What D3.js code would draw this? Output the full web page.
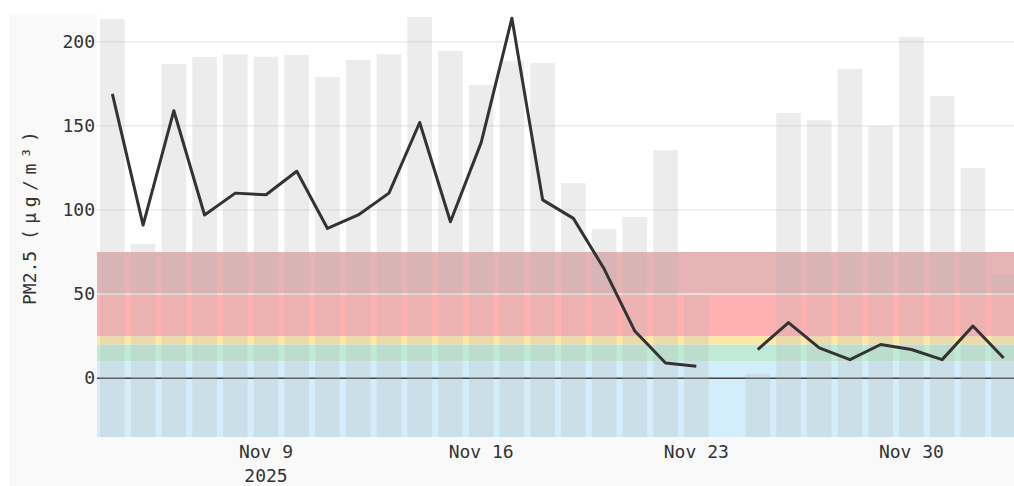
<!DOCTYPE html>
<html>
<head>
<meta charset="utf-8">
<script src="https://cdn.jsdelivr.net/npm/d3@7"></script>
<style>
  html, body { margin: 0; padding: 0; background: #ffffff; }
  svg { display: block; }
</style>
</head>
<body>
<svg id="chart" width="1014" height="486"></svg>
<script>
// ---- data ----
const dates = [
  "2025-11-04","2025-11-05","2025-11-06","2025-11-07","2025-11-08","2025-11-09",
  "2025-11-10","2025-11-11","2025-11-12","2025-11-13","2025-11-14","2025-11-15",
  "2025-11-16","2025-11-17","2025-11-18","2025-11-19","2025-11-20","2025-11-21",
  "2025-11-22","2025-11-23","2025-11-24","2025-11-25","2025-11-26","2025-11-27",
  "2025-11-28","2025-11-29","2025-11-30","2025-12-01","2025-12-02","2025-12-03"
];
const pm25 = [
  169, 91, 159, 97, 110, 109,
  123, 89, 97, 110, 152, 93,
  140, 214, 106, 95, 65, 28,
  9, 7, null, 17, 33, 18,
  11, 20, 17, 11, 31, 12
];
// secondary series drawn as background bars (0-100 scale)
const barValues = [
  98.8, 45.6, 88.2, 89.8, 90.5, 89.9,
  90.3, 85.1, 89.1, 90.5, 99.3, 91.3,
  83.2, 88.9, 88.4, 60.0, 49.2, 52.0,
  67.8, 33.6, 0, 14.9, 76.6, 74.9,
  87.0, 73.5, 94.6, 80.6, 63.6, 38.5
];
const yTicks = [0, 50, 100, 150, 200];
const xTickDates = ["2025-11-09", "2025-11-16", "2025-11-23", "2025-11-30"];
const xTickLabels = ["Nov 9", "Nov 16", "Nov 23", "Nov 30"];
const yearLabel = "2025";
const bandLows  = [null, 10, 20, 25, 50];
const bandHighs = [10, 20, 25, 50, 75];
const yTitleMain = "PM2.5 ";
const yTitleUnit = "(μg/m³)";

// ---- styles ----
const bandColors = ["#d3eefa", "#bfebd6", "#fde8a6", "#ffb0b0", "#e6b4b4"];
const FONT = "'DejaVu Sans Mono', monospace";

const parse = d3.timeParse("%Y-%m-%d");
const svg = d3.select("#chart");
const W = 1014, H = 486;
const plot = { left: 97, top: 14, right: 1019, bottom: 437 };

const x = d3.scaleTime()
  .domain([new Date(2025, 10, 3, 12), new Date(2025, 11, 3, 12)])
  .range([plot.left, plot.right]);
const y = d3.scaleLinear().domain([-35, 216.5]).range([plot.bottom, plot.top]);
const y2 = d3.scaleLinear().domain([0, 100]).range([plot.bottom, plot.top]);
const dayW = x(parse("2025-11-05")) - x(parse("2025-11-04"));

// paper background
svg.append("rect").attr("x", 9).attr("y", 14).attr("width", W - 9).attr("height", H - 14)
  .attr("fill", "#f9f9f9");
svg.append("rect").attr("x", plot.left).attr("y", plot.top)
  .attr("width", plot.right - plot.left).attr("height", plot.bottom - plot.top)
  .attr("fill", "#ffffff");

svg.append("clipPath").attr("id", "clip").append("rect")
  .attr("x", plot.left).attr("y", plot.top)
  .attr("width", plot.right - plot.left).attr("height", plot.bottom - plot.top);
const g = svg.append("g").attr("clip-path", "url(#clip)");

// bands
g.selectAll("rect.band").data(bandHighs).enter().append("rect")
  .attr("class", "band")
  .attr("x", plot.left).attr("width", plot.right - plot.left)
  .attr("y", d => y(d))
  .attr("height", (d, i) => (bandLows[i] === null ? plot.bottom : y(bandLows[i])) - y(d))
  .attr("fill", (d, i) => bandColors[i]);

// grid
g.selectAll("line.grid").data(yTicks.filter(t => t !== 0)).enter().append("line")
  .attr("x1", plot.left).attr("x2", plot.right)
  .attr("y1", d => y(d)).attr("y2", d => y(d))
  .attr("stroke", "#ebebeb").attr("stroke-width", 1.5);

// zero line
g.append("line").attr("x1", plot.left).attr("x2", plot.right)
  .attr("y1", y(0)).attr("y2", y(0))
  .attr("stroke", "#444").attr("stroke-width", 1.5);

// bars
g.selectAll("rect.bar").data(barValues).enter().append("rect")
  .attr("class", "bar")
  .attr("x", (d, i) => x(parse(dates[i])) - dayW * 0.4)
  .attr("width", dayW * 0.8)
  .attr("y", d => y2(d))
  .attr("height", d => y2(0) - y2(d))
  .attr("fill", "rgb(182,182,182)").attr("fill-opacity", 0.26);

// line
const line = d3.line()
  .defined(d => d !== null)
  .x((d, i) => x(parse(dates[i])))
  .y(d => y(d));
g.append("path").datum(pm25).attr("d", line)
  .attr("fill", "none").attr("stroke", "#333").attr("stroke-width", 3)
  .attr("stroke-linejoin", "round");

// y tick labels
svg.selectAll("text.ytick").data(yTicks).enter().append("text")
  .attr("x", 95).attr("y", d => y(d)).attr("dy", "0.35em")
  .attr("text-anchor", "end")
  .attr("font-family", FONT).attr("font-size", 18).attr("fill", "#333")
  .text(d => d);

// x tick labels
svg.selectAll("text.xtick").data(xTickDates).enter().append("text")
  .attr("x", d => x(parse(d))).attr("y", 458)
  .attr("text-anchor", "middle")
  .attr("font-family", FONT).attr("font-size", 18).attr("fill", "#333")
  .text((d, i) => xTickLabels[i]);
svg.append("text")
  .attr("x", x(parse(xTickDates[0]))).attr("y", 482)
  .attr("text-anchor", "middle")
  .attr("font-family", FONT).attr("font-size", 18).attr("fill", "#333")
  .text(yearLabel);

// y title
const title = svg.append("text")
  .attr("transform", "translate(36,305) rotate(-90)")
  .attr("text-anchor", "start")
  .attr("font-family", FONT).attr("font-size", 18).attr("fill", "#333");
title.append("tspan").text(yTitleMain);
title.append("tspan").attr("letter-spacing", 5.5).text(yTitleUnit);
</script>
</body>
</html>
